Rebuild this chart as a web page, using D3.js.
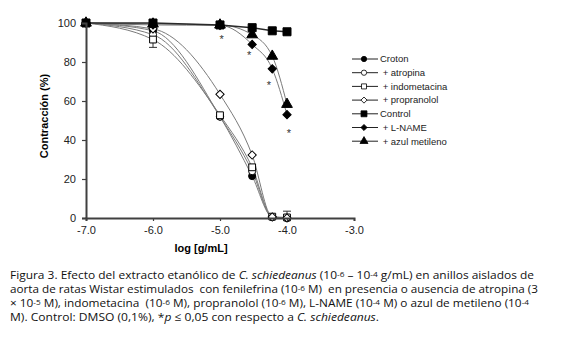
<!DOCTYPE html>
<html>
<head>
<meta charset="utf-8">
<script src="https://cdn.jsdelivr.net/npm/d3@7"></script>
<style>
  body { margin: 0; background: #fff; }
  svg { display: block; }
  .legend text { white-space: pre; }
</style>
</head>
<body>
<div id="chart"></div>
<script>
// log concentration of the extract (g/mL)
const logDose = [-7, -6, -5, -4.52, -4.22, -4];

// contraction (%)
const croton = [100, 96, 52, 21.5, 0.5, 0];
const atropina = [100, 94, 52, 24, 0.5, 0];
const indometacina = [100, 91.5, 52.7, 26, 0.7, 0.3];
const propranolol = [100, 97, 63.4, 32.3, 0.5, 0];
const control = [100, 100, 99, 97.6, 96, 95.5];
const lName = [100, 99, 98.8, 89, 76.5, 53];
const azulMetileno = [100, 99.5, 99, 94, 83, 58.3];

const seriesNames = ['Croton', ' + atropina', ' + indometacina', ' + propranolol', 'Control', ' + L-NAME', ' + azul metileno'];

// significance marks (*) and error bars
const starX = [-4.975, -4.565, -4.27, -3.97];
const starY = [92.8, 84.6, 69, 44.7];
const errX = [-6, -4];
const errFrom = [91.5, 0.3];
const errTo = [87.5, 3.5];

const xTicks = [-7, -6, -5, -4, -3];
const yTicks = [0, 20, 40, 60, 80, 100];

const W = 580, H = 351;

const svg = d3.select('#chart').append('svg')
    .attr('width', W)
    .attr('height', H);

const x = d3.scaleLinear().domain([-7, -3]).range([86, 354]);
const y = d3.scaleLinear().domain([0, 100]).range([218, 23]);

const series = [
    { name: seriesNames[0], values: croton, shape: 'circle', fill: '#000', fit: true },
    { name: seriesNames[1], values: atropina, shape: 'circle', fill: '#fff', fit: true },
    { name: seriesNames[2], values: indometacina, shape: 'square', fill: '#fff', fit: true },
    { name: seriesNames[3], values: propranolol, shape: 'diamond', fill: '#fff', fit: true },
    { name: seriesNames[5], values: lName, shape: 'diamond', fill: '#000', fit: true },
    { name: seriesNames[6], values: azulMetileno, shape: 'triangle', fill: '#000', fit: true },
    { name: seriesNames[4], values: control, shape: 'bigsquare', fill: '#000', fit: false }
];

function markerPath(shape, scale) {
    const s = scale || 1;
    if (shape === 'circle') return d3.symbol(d3.symbolCircle, 40 * s)();
    if (shape === 'square') return d3.symbol(d3.symbolSquare, 46 * s)();
    if (shape === 'bigsquare') return d3.symbol(d3.symbolSquare, 64 * s)();
    if (shape === 'diamond') return d3.symbol(d3.symbolSquare, 34 * s)();
    return d3.symbol(d3.symbolTriangle, 50 * s)();
}

const line = d3.line()
    .x(d => x(d[0]))
    .y(d => y(d[1]))
    .curve(d3.curveMonotoneX);

// fitted curves
series.forEach(s => {
    const pts = logDose.map((v, i) => [v, s.values[i]]);
    svg.append('path')
        .attr('d', line.curve(s.fit ? d3.curveMonotoneX : d3.curveLinear)(pts))
        .attr('fill', 'none')
        .attr('stroke', s.fit ? '#7a7a7a' : '#2a2a2a')
        .attr('stroke-width', s.fit ? 1 : 1.6);
});

// error bars
errX.forEach((v, i) => {
    const g = svg.append('g').attr('stroke', '#333').attr('stroke-width', 1);
    g.append('line')
        .attr('x1', x(v)).attr('x2', x(v))
        .attr('y1', y(errFrom[i])).attr('y2', y(errTo[i]));
    g.append('line')
        .attr('x1', x(v) - 4).attr('x2', x(v) + 4)
        .attr('y1', y(errTo[i])).attr('y2', y(errTo[i]));
});

// markers
series.forEach(s => {
    svg.append('g')
        .selectAll('path')
        .data(logDose.map((v, i) => [v, s.values[i]]))
        .enter().append('path')
        .attr('d', markerPath(s.shape))
        .attr('transform', d => `translate(${x(d[0])},${y(d[1])})` + (s.shape === 'diamond' ? ' rotate(45)' : ''))
        .attr('fill', s.fill)
        .attr('stroke', '#000')
        .attr('stroke-width', 1);
});

// asterisks
svg.append('g')
    .selectAll('text')
    .data(starX.map((v, i) => [v, starY[i]]))
    .enter().append('text')
    .attr('x', d => x(d[0]))
    .attr('y', d => y(d[1]) + 6)
    .attr('text-anchor', 'middle')
    .style('font-family', 'Liberation Sans, Arial, sans-serif')
    .style('font-size', '11px')
    .style('fill', '#333')
    .text('*');

// axes
const xAxis = svg.append('g')
    .attr('transform', `translate(0,${y(0)})`)
    .call(d3.axisBottom(x).tickValues(xTicks).tickSize(3).tickPadding(5).tickFormat(d => d.toFixed(1)));

const yAxis = svg.append('g')
    .attr('transform', `translate(${x(-7)},0)`)
    .call(d3.axisLeft(y).tickValues(yTicks).tickSize(4).tickPadding(6));

[xAxis, yAxis].forEach(a => {
    a.select('.domain').attr('stroke', '#404040').attr('stroke-width', 2);
    a.selectAll('.tick line').attr('stroke', '#404040').attr('stroke-width', 1.2);
    a.selectAll('text')
        .style('font-family', 'Liberation Sans, Arial, sans-serif')
        .style('font-size', '11px')
        .style('fill', '#222');
});

// axis titles
svg.append('text')
    .attr('transform', 'translate(48,116) rotate(-90)')
    .attr('text-anchor', 'middle')
    .style('font-family', 'Liberation Sans, Arial, sans-serif')
    .style('font-size', '11px')
    .style('font-weight', 'bold')
    .text('Contracción (%)');

svg.append('text')
    .attr('x', 201)
    .attr('y', 252)
    .attr('text-anchor', 'middle')
    .style('font-family', 'Liberation Sans, Arial, sans-serif')
    .style('font-size', '11px')
    .style('font-weight', 'bold')
    .text('log [g/mL]');

// legend
const legendShapes = ['circle', 'circle', 'square', 'diamond', 'bigsquare', 'diamond', 'triangle'];
const legendFills = ['#000', '#fff', '#fff', '#fff', '#000', '#000', '#000'];
const legend = svg.append('g').attr('class', 'legend');
seriesNames.forEach((name, i) => {
    const ly = 59 + i * 13.7;
    legend.append('line')
        .attr('x1', 352).attr('x2', 378)
        .attr('y1', ly).attr('y2', ly)
        .attr('stroke', '#222').attr('stroke-width', 1);
    legend.append('path')
        .attr('d', markerPath(legendShapes[i], 0.55))
        .attr('transform', `translate(364,${ly})` + (legendShapes[i] === 'diamond' ? ' rotate(45)' : ''))
        .attr('fill', legendFills[i])
        .attr('stroke', '#000')
        .attr('stroke-width', 0.8);
    legend.append('text')
        .attr('x', 380)
        .attr('y', ly + 3.3)
        .style('font-family', 'Liberation Sans, Arial, sans-serif')
        .style('font-size', '9.5px')
        .style('fill', '#222')
        .text(name);
});

// caption
const captionLines = [
    [['Figura 3. Efecto del extracto etanólico de ', ''], ['C. schiedeanus', 'i'], [' (10', ''], ['-6', 'sup'], [' – 10', ''], ['-4', 'sup'], [' g/mL) en anillos aislados de', '']],
    [['aorta de ratas Wistar estimulados  con fenilefrina (10', ''], ['-6', 'sup'], [' M)  en presencia o ausencia de atropina (3', '']],
    [['× 10', ''], ['-5', 'sup'], [' M), indometacina  (10', ''], ['-6', 'sup'], [' M), propranolol (10', ''], ['-6', 'sup'], [' M), L-NAME (10', ''], ['-4', 'sup'], [' M) o azul de metileno (10', ''], ['-4', 'sup']],
    [['M). Control: DMSO (0,1%), *', ''], ['p', 'i'], [' ≤ 0,05 con respecto a ', ''], ['C. schiedeanus', 'i'], ['.', '']]
];
const captionWidths = [524, 528, 519, 369];

captionLines.forEach((segs, i) => {
    const t = svg.append('text')
        .attr('x', 10)
        .attr('y', 278.5 + i * 14.2)
        .attr('textLength', captionWidths[i])
        .attr('lengthAdjust', 'spacingAndGlyphs')
        .style('font-family', 'Open Sans, sans-serif')
        .style('font-size', '11.5px')
        .style('fill', '#111')
        .style('white-space', 'pre');
    segs.forEach(seg => {
        const ts = t.append('tspan').text(seg[0]);
        if (seg[1] === 'i') ts.style('font-style', 'italic');
        if (seg[1] === 'sup') ts.attr('baseline-shift', '30%').style('font-size', '8px');
    });
});
</script>
</body>
</html>
